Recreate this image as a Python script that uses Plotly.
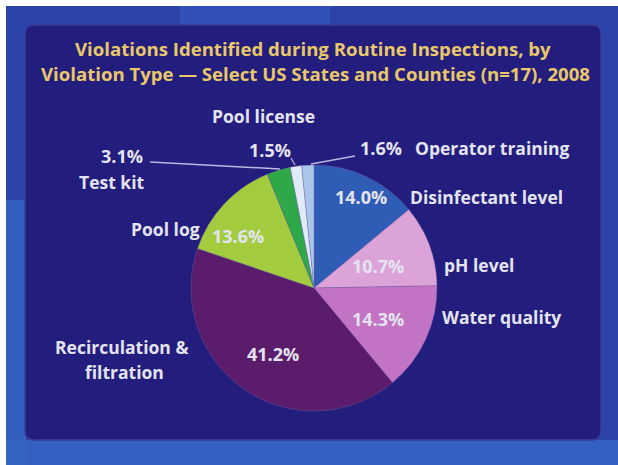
import plotly.graph_objects as go

W, H = 618, 465

# ---- data ----
categories = ["Disinfectant level", "pH level", "Water quality",
              "Recirculation & filtration", "Pool log", "Test kit",
              "Pool license", "Operator training"]
values = [14.0, 10.7, 14.3, 41.2, 13.6, 3.1, 1.5, 1.6]
colors = ["#2f5cb4", "#dba3d8", "#c373c4", "#5b1d6b",
          "#a2cc3e", "#2ea848", "#e0ebf7", "#a9c5ea"]

title_lines = ["Violations Identified during Routine Inspections, by",
               "Violation Type \u2014 Select US States and Counties (n=17), 2008"]

def px(x):
    return x / W

def py(y):
    return 1 - y / H

cx, cy, r = 314, 288, 123

fig = go.Figure()
fig.add_trace(go.Pie(
    labels=categories, values=values, sort=False, direction="clockwise",
    rotation=0, marker=dict(colors=colors, line=dict(width=0.6, color="rgba(120,100,170,0.6)")),
    textinfo="none", hoverinfo="label+percent", showlegend=False,
    domain=dict(x=[px(cx - r), px(cx + r)], y=[py(cy + r), py(cy - r)]),
))

LBL = "#e4e4f0"
FONT = "Open Sans"
fs = 17.5
fp = 18

def pct(i):
    return f"{values[i]:.1f}%"

ann = []
def add(text, x, y, xanchor="center", size=fs, color=LBL):
    ann.append(dict(text=text, x=px(x), y=py(y), xref="paper", yref="paper",
                    xanchor=xanchor, yanchor="middle", showarrow=False,
                    font=dict(family=FONT, size=size, color=color)))

# title
add("<b>" + title_lines[0] + "</b>", 313, 48, size=18.6, color="#e8c86a")
add("<b>" + title_lines[1] + "</b>", 315, 73, size=18.6, color="#e8c86a")

# labels
add("<b>" + categories[0] + "</b>", 408, 197, "left")
add("<b>" + pct(0) + "</b>", 361, 197, size=fp)
add("<b>" + categories[1] + "</b>", 442, 265, "left")
add("<b>" + pct(1) + "</b>", 378, 266, size=fp)
add("<b>" + categories[2] + "</b>", 440, 317, "left")
add("<b>" + pct(2) + "</b>", 378, 319, size=fp)
add("<b>Recirculation &amp;</b>", 122, 347)
add("<b>filtration</b>", 124, 372)
add("<b>" + pct(3) + "</b>", 273, 354, size=fp)
add("<b>" + categories[4] + "</b>", 166, 229)
add("<b>" + pct(4) + "</b>", 238, 236, size=fp)
add("<b>" + pct(5) + "</b>", 122, 156, size=fp)
add("<b>" + categories[5] + "</b>", 112, 182)
add("<b>" + categories[6] + "</b>", 263, 116)
add("<b>" + pct(6) + "</b>", 270, 150, size=fp)
add("<b>" + pct(7) + "</b>", 358, 148, "left", size=fp)
add("<b>" + categories[7] + "</b>", 413, 148, "left")

def rounded_rect(x0, y0, x1, y1, rad):
    # pixel coords (top-left origin) -> paper path
    pts = [
        f"M {px(x0 + rad)} {py(y0)}",
        f"L {px(x1 - rad)} {py(y0)}",
        f"Q {px(x1)} {py(y0)} {px(x1)} {py(y0 + rad)}",
        f"L {px(x1)} {py(y1 - rad)}",
        f"Q {px(x1)} {py(y1)} {px(x1 - rad)} {py(y1)}",
        f"L {px(x0 + rad)} {py(y1)}",
        f"Q {px(x0)} {py(y1)} {px(x0)} {py(y1 - rad)}",
        f"L {px(x0)} {py(y0 + rad)}",
        f"Q {px(x0)} {py(y0)} {px(x0 + rad)} {py(y0)} Z",
    ]
    return " ".join(pts)

shapes = [
    # outer slide background
    dict(type="rect", xref="paper", yref="paper", x0=px(6), x1=1, y0=0, y1=py(6),
         fillcolor="#2c44aa", line=dict(width=0), layer="below"),
    dict(type="rect", xref="paper", yref="paper", x0=px(6), x1=1, y0=0, y1=py(440),
         fillcolor="#3360c2", line=dict(width=0), layer="below"),
    dict(type="rect", xref="paper", yref="paper", x0=px(6), x1=px(26), y0=0, y1=py(200),
         fillcolor="#3566c6", line=dict(width=0), layer="below", opacity=0.8),
    dict(type="rect", xref="paper", yref="paper", x0=px(180), x1=px(330), y0=py(27), y1=py(6),
         fillcolor="#3355c0", line=dict(width=0), layer="below", opacity=0.7),
    # inner panel
    dict(type="path", xref="paper", yref="paper", path=rounded_rect(25, 25, 601, 440, 9),
         fillcolor="#231d7d", line=dict(width=1.5, color="#3a3c98"), layer="below"),
    # leader lines
    dict(type="line", xref="paper", yref="paper", x0=px(150), y0=py(162), x1=px(280), y1=py(169),
         line=dict(color="#b8b8e0", width=1.5)),
    dict(type="line", xref="paper", yref="paper", x0=px(291), y0=py(158), x1=px(295), y1=py(165),
         line=dict(color="#b8b8e0", width=1.2)),
    dict(type="line", xref="paper", yref="paper", x0=px(355), y0=py(156), x1=px(311), y1=py(164),
         line=dict(color="#b8b8e0", width=1.5)),
]

fig.update_layout(
    width=W, height=H, margin=dict(l=0, r=0, t=0, b=0),
    paper_bgcolor="#ffffff", plot_bgcolor="#ffffff",
    annotations=ann, shapes=shapes,
)

fig.write_html("out.html", config={"displayModeBar": False},
               post_script="document.body.style.margin='0';")
